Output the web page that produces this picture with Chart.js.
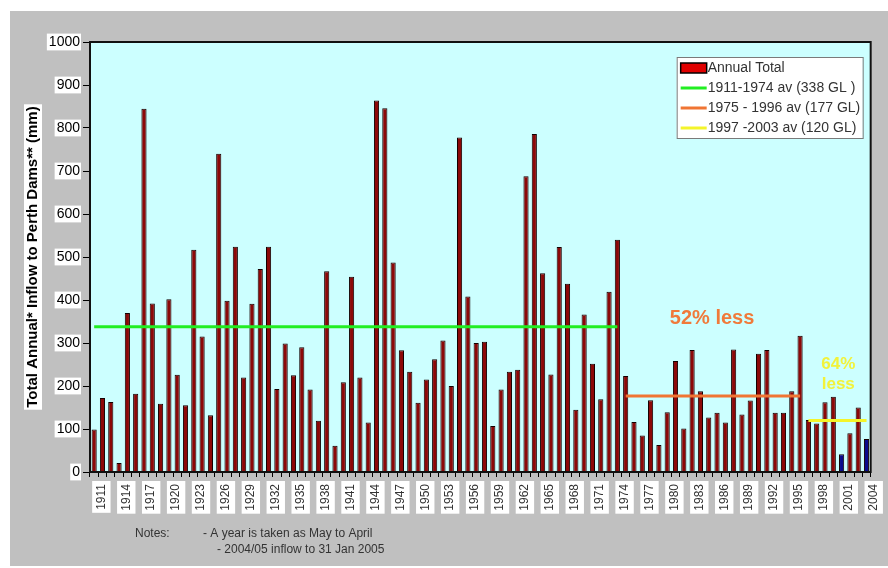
<!DOCTYPE html>
<html>
<head>
<meta charset="utf-8">
<script src="https://cdn.jsdelivr.net/npm/chart.js@4.4.0/dist/chart.umd.min.js"></script>
<style>
body{margin:0;background:#fff;}
#wrap{position:relative;width:888px;height:568px;}
</style>
</head>
<body>
<div id="wrap"><canvas id="canvas" width="888" height="568"></canvas></div>
<script>
// years (May to April water years)
var years=['1911','1912','1913','1914','1915','1916','1917','1918','1919','1920',
	'1921','1922','1923','1924','1925','1926','1927','1928','1929','1930',
	'1931','1932','1933','1934','1935','1936','1937','1938','1939','1940',
	'1941','1942','1943','1944','1945','1946','1947','1948','1949','1950',
	'1951','1952','1953','1954','1955','1956','1957','1958','1959','1960',
	'1961','1962','1963','1964','1965','1966','1967','1968','1969','1970',
	'1971','1972','1973','1974','1975','1976','1977','1978','1979','1980',
	'1981','1982','1983','1984','1985','1986','1987','1988','1989','1990',
	'1991','1992','1993','1994','1995','1996','1997','1998','1999','2000',
	'2001','2002','2003','2004'];
// total annual inflow (mm)
var inflow=[99,172,163,21,370,182,845,392,159,402,
	226,155,517,315,132,740,398,524,220,391,
	472,524,193,299,225,290,192,119,467,61,
	209,454,220,115,864,846,487,283,233,161,
	215,262,306,200,778,408,300,303,107,192,
	233,238,688,786,462,227,523,438,145,366,
	252,169,419,540,223,116,85,167,63,139,
	258,101,284,188,127,138,115,285,134,166,
	275,284,138,138,188,317,121,113,162,175,
	41,90,150,77];
// years drawn in blue in the original
var blueYears=['2001','2004'];

var avgLabels=['1911-1974 av (338 GL )','1975 - 1996 av (177 GL)','1997 -2003 av (120 GL)'];
var avgValues=[338,177,120];
var avgFrom=['1911','1975','1997'];
var avgTo=['1974','1996','2004'];
var avgColors=['#22ee22','#f07533','#f4f42a'];

var noteLines=['Notes:','- A year is taken as May to April','- 2004/05 inflow to 31 Jan 2005'];

// callout texts placed in data units (category index, value)
var callouts=[
	{text:'52% less',at:74.4,value:358,color:'#f07a3a',size:20},
	{text:'64%',at:89.6,value:251,color:'#f2f23a',size:17},
	{text:'less',at:89.6,value:203,color:'#f2f23a',size:17}
];

var FONT='Arial, "Liberation Sans", sans-serif';

function buildDatasets(){
	var datasets=[];
	var barColors=[];
	for (var i=0;i<years.length;i++){
		barColors.push(blueYears.indexOf(years[i])>=0 ? '#0a0a8c' : '#8c0808');
	}
	datasets.push({
		type:'bar',
		label:'Annual Total',
		data:inflow,
		backgroundColor:barColors,
		borderColor:'#140000',
		borderWidth:1,
		borderSkipped:'bottom',
		barPercentage:0.62,
		categoryPercentage:1,
		order:2
	});
	for (var k=0;k<avgValues.length;k++){
		var d=[];
		for (var j=0;j<years.length;j++){
			d.push(years[j]>=avgFrom[k] && years[j]<=avgTo[k] ? avgValues[k] : null);
		}
		datasets.push({
			type:'line',
			label:avgLabels[k],
			data:d,
			borderColor:avgColors[k],
			backgroundColor:avgColors[k],
			borderWidth:3,
			pointRadius:0,
			spanGaps:false,
			fill:false,
			order:1
		});
	}
	return datasets;
}

function drawLegend(chart){
	var ctx=chart.ctx, a=chart.chartArea;
	var w=186, h=81, x=a.right-8-w, y=a.top+15;
	ctx.fillStyle='#fff';
	ctx.fillRect(x,y,w,h);
	ctx.strokeStyle='#7a7a7a';
	ctx.lineWidth=1;
	ctx.strokeRect(x+0.5,y+0.5,w,h);
	ctx.font='14px '+FONT;
	ctx.textBaseline='middle';
	ctx.textAlign='left';
	var ds=chart.data.datasets;
	for (var i=0;i<ds.length;i++){
		var cy=y+11+i*20;
		if (ds[i].type=='bar'){
			ctx.fillStyle='#e00000';
			ctx.fillRect(x+4,cy-5,26,10);
			ctx.strokeStyle='#000';
			ctx.lineWidth=1.5;
			ctx.strokeRect(x+4,cy-5,26,10);
		}
		else{
			ctx.strokeStyle=ds[i].borderColor;
			ctx.lineWidth=3;
			ctx.beginPath();
			ctx.moveTo(x+4,cy);
			ctx.lineTo(x+30,cy);
			ctx.stroke();
		}
		ctx.fillStyle='#333';
		ctx.fillText(ds[i].label,x+31,cy);
	}
}

var panelPlugin={
	id:'panel',
	beforeDraw:function(chart){
		var ctx=chart.ctx, a=chart.chartArea;
		ctx.save();
		ctx.fillStyle='#fff';
		ctx.fillRect(0,0,chart.width,chart.height);
		ctx.fillStyle='#c0c0c0';
		ctx.fillRect(10,11,chart.width-10,chart.height-13);
		ctx.fillStyle='#ccffff';
		ctx.fillRect(a.left,a.top,a.right-a.left,a.bottom-a.top);
		ctx.restore();
	},
	afterDraw:function(chart){
		var ctx=chart.ctx, a=chart.chartArea;
		var xs=chart.scales.x, ys=chart.scales.y;
		ctx.save();
		// frame
		ctx.strokeStyle='#111';
		ctx.lineWidth=2;
		ctx.strokeRect(a.left,a.top,a.right-a.left,a.bottom-a.top);

		drawLegend(chart);

		// callouts
		ctx.textAlign='center';
		ctx.textBaseline='middle';
		for (var i=0;i<callouts.length;i++){
			var c=callouts[i];
			ctx.font='bold '+c.size+'px '+FONT;
			ctx.fillStyle=c.color;
			ctx.fillText(c.text,xs.getPixelForValue(c.at),ys.getPixelForValue(c.value));
		}

		// y axis title with white backdrop
		var title='Total Annual* Inflow to Perth Dams** (mm)';
		ctx.font='bold 15px '+FONT;
		var tw=ctx.measureText(title).width;
		var tx=33, ty=(a.top+a.bottom)/2;
		ctx.translate(tx,ty);
		ctx.rotate(-Math.PI/2);
		ctx.fillStyle='#fff';
		ctx.fillRect(-tw/2-2,-9,tw+4,18);
		ctx.fillStyle='#000';
		ctx.fillText(title,0,0);
		ctx.setTransform(1,0,0,1,0,0);

		// notes
		ctx.font='12px '+FONT;
		ctx.fillStyle='#333';
		ctx.textAlign='left';
		ctx.fillText(noteLines[0],a.left+45,534);
		ctx.fillText(noteLines[1],a.left+113,534);
		ctx.fillText(noteLines[2],a.left+127,550);
		ctx.restore();
	}
};

var config={
	type:'bar',
	data:{labels:years,datasets:buildDatasets()},
	options:{
		responsive:false,
		animation:false,
		layout:{padding:{top:42,right:15,left:0,bottom:0}},
		plugins:{legend:{display:false},tooltip:{enabled:false}},
		scales:{
			x:{
				afterFit:function(s){s.height=96;},
				grid:{offset:true,drawOnChartArea:false,tickLength:5,color:'#000'},
				border:{display:true,color:'#000',width:2},
				ticks:{
					autoSkip:false,
					minRotation:90,
					maxRotation:90,
					padding:7,
					color:'#333',
					font:{family:FONT,size:12},
					showLabelBackdrop:true,
					backdropPadding:{top:2,bottom:2,left:3,right:3},
					backdropColor:function(c){return c.index%3==0 ? '#fff' : 'rgba(0,0,0,0)';},
					callback:function(v,i){return i%3==0 ? years[i] : '';}
				}
			},
			y:{
				min:0,
				max:1000,
				afterFit:function(s){s.width=90;},
				grid:{drawOnChartArea:false,tickLength:7,color:'#000'},
				border:{display:true,color:'#000',width:2},
				ticks:{
					stepSize:100,
					padding:3,
					color:'#000',
					font:{family:FONT,size:14},
					showLabelBackdrop:true,
					backdropColor:'#fff',
					backdropPadding:{top:0,bottom:0,left:2,right:1},
					callback:function(v){return String(v);}
				}
			}
		}
	},
	plugins:[panelPlugin]
};

var ctx=document.getElementById('canvas').getContext('2d');
window.myChart=new Chart(ctx,config);
</script>
</body>
</html>
